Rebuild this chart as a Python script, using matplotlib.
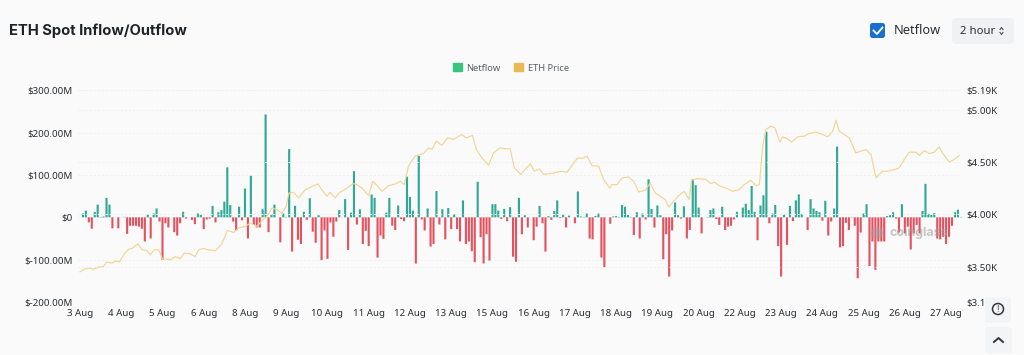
import numpy as np
import matplotlib
matplotlib.use("Agg")
import matplotlib.pyplot as plt
from matplotlib.patches import Patch, FancyBboxPatch, Circle

plt.rcParams['font.family'] = ['Noto Sans', 'DejaVu Sans']

netflow = [0,
 9,16,-12,-27,13,30,1,2,46,30,-26,0,-26,0,1,-39,-20,-20,-20,-22,-27,-57,6,-50,9,21,-10,-100,-14,-24,0,-35,-43,-14,13,-3,0,-6,-16,9,6,-28,-5,-3,27,-12,12,17,37,118,29,-10,-31,25,-7,68,-50,98,-18,-24,-24,19,243,-35,6,30,0,-59,9,1,161,-81,27,-53,-63,13,-6,45,-34,-60,5,-101,-31,-98,-12,-46,-10,17,
 0,43,-77,11,109,-17,19,-63,-32,-68,54,46,-95,-43,-51,11,46,-20,-30,28,-4,-9,96,48,16,-109,145,-5,-31,21,-69,-63,62,-17,19,-52,22,-28,7,-28,-57,40,-63,-57,-80,-106,84,-47,-109,-40,-102,31,31,16,-4,20,-9,24,-93,-105,46,-40,5,-24,0,-54,-22,27,-14,-81,3,-6,15,40,-2,6,-24,4,0,-14,61,2,1,9,-50,-52,3,9,-95,-118,0,-15,2,3,1,29,25,6,1,-42,12,-50,9,-5,90,20,-24,28,5,-99,-40,-140,-31,35,5,-3,
 26,-50,-30,90,76,23,-38,0,1,17,21,-4,-18,25,-30,-22,-20,-5,13,0,23,32,17,74,13,-54,28,52,202,-14,9,29,-68,-140,7,-65,27,-9,40,54,8,0,-30,43,21,15,12,-8,39,-43,-10,21,167,-71,-68,-13,-30,1,-20,-144,-36,9,31,-115,-57,-124,-57,-57,-57,3,5,12,-3,-36,31,-38,-22,-76,-38,-18,-38,15,79,8,6,10,-50,-52,-46,-63,-46,-20,12,18,1]

price_index = [0,1.75,3.2,4.6,6.2,7.9,9.1,10.7,11.9,13.3,14.7,16.4,17.5,19.5,20.9,22.5,23.7,25,26.5,27.8,29.3,30.4,32.1,33.8,35.1,37.1,38.8,40,41.6,43.3,45.6,47.8,49.7,51.8,53.4,55.7,57.4,59.6,61.9,63,64.7,66.4,68,69.5,70.4,72,73.7,75.9,78.2,80.2,81.5,83.2,84.3,86,87.5,
 88.3,90,92,93.3,95,97.3,98.7,100.1,101.8,104,106.3,108,109.3,110.7,112.9,115.8,117.5,118.6,120.1,122,123.9,125.9,127.3,128.7,130.2,132.3,133.6,135.5,137.7,139.4,141.6,143.3,145,146.4,148.6,150.1,151.8,153.1,154.8,156.3,159.6,162.4,164.1,165.8,167.7,169.2,170.9,172.6,174.8,176.5,178.5,179.3,181,182.7,184.9,186.6,188.3,190.5,192.2,193.9,195.6,197.3,198.4,200.1,201.8,
 203.7,205.3,206.1,208.2,211,212.7,213.8,215.5,217.7,220,222.2,223.9,226.1,227.8,229,230.1,231.2,232.9,234.2,235.9,236.8,238.5,239.8,241.9,244.1,245.8,248,250.3,252,253.7,254.8,255.9,257.6,259.3,261.5,263.2,264.9,266.6,268.3,270.5,272.2,274.5,276.1,277.8,279.5,281.8,282.9,284.6,286.2,287.9,289.6,290.7,293,294.6,296.3]
price_k = [3.449,3.478,3.484,3.475,3.494,3.50,3.545,3.532,3.552,3.545,3.612,3.667,3.673,3.718,3.661,3.654,3.612,3.661,3.661,3.574,3.571,3.564,3.596,3.574,3.628,3.622,3.596,3.661,3.673,3.661,3.651,3.718,3.846,3.827,3.869,3.885,3.917,3.885,3.955,3.981,4.061,4.045,4.013,4.077,4.205,4.212,4.157,4.237,4.269,4.292,4.237,4.173,4.212,4.157,4.212,
 4.221,4.253,4.295,4.286,4.253,4.180,4.318,4.276,4.221,4.276,4.292,4.318,4.286,4.462,4.558,4.584,4.638,4.622,4.702,4.661,4.734,4.718,4.744,4.766,4.734,4.757,4.622,4.542,4.472,4.590,4.638,4.629,4.629,4.446,4.382,4.436,4.484,4.414,4.436,4.382,4.398,4.414,4.404,4.468,4.542,4.536,4.558,4.468,4.462,4.334,4.253,4.286,4.286,4.350,4.359,4.318,4.215,4.231,4.302,4.205,4.173,4.141,4.071,4.125,4.180,
 4.221,4.141,4.327,4.343,4.334,4.295,4.308,4.276,4.253,4.221,4.237,4.286,4.327,4.276,4.286,4.654,4.814,4.846,4.830,4.693,4.744,4.725,4.693,4.744,4.750,4.776,4.789,4.766,4.744,4.798,4.904,4.798,4.766,4.734,4.590,4.606,4.622,4.574,4.350,4.414,4.414,4.430,4.446,4.526,4.596,4.596,4.564,4.612,4.584,4.596,4.648,4.590,4.503,4.526,4.564]

date_labels = ['3 Aug','4 Aug','5 Aug','6 Aug','8 Aug','9 Aug','10 Aug','11 Aug','12 Aug','13 Aug','15 Aug','16 Aug','17 Aug','18 Aug','19 Aug','20 Aug','22 Aug','23 Aug','24 Aug','25 Aug','26 Aug','27 Aug']
left_ticks = [300,200,100,0,-100,-200]
left_labels = ['$300.00M','$200.00M','$100.00M','$0','$-100.00M','$-200.00M']
right_ticks = [5.19,5.0,4.5,4.0,3.5,3.16]
right_labels = ['$5.19K','$5.00K','$4.50K','$4.00K','$3.50K','$3.1']

W, H = 1024, 355
BG = '#fafafa'
TEXT = '#2b2e33'
UP, DOWN = '#2fa896', '#e4525f'
LEG_UP, LEG_PRICE = '#3cc47f', '#e9b955'
PRICE_X_SCALE = 1.00713  # price samples were read on a slightly coarser step than the bars

fig = plt.figure(figsize=(W/100, H/100), dpi=100, facecolor=BG)
ax = fig.add_axes([78/W, 1-302/H, (962-78)/W, (302-90.3)/H], facecolor='none')
ax2 = ax.twinx()
ax.set_zorder(2); ax2.set_zorder(3)
x = np.arange(len(netflow))
ax.bar(x, netflow, width=0.72, color=[UP if v >= 0 else DOWN for v in netflow], linewidth=0, zorder=3, snap=False)
ax.set_xlim(-0.68, 299.4)
ax.set_ylim(-200, 300)
ax.set_yticks(left_ticks, left_labels)
ax.set_xticks(np.arange(len(date_labels))*14, date_labels)
ax2.plot(np.array(price_index)*PRICE_X_SCALE, price_k, color='#f2d596', lw=0.85, zorder=4, solid_joinstyle='round')
ax2.set_ylim(3.16, 5.19)
ax2.set_yticks(right_ticks, right_labels)
ax.grid(axis='y', color='#f0f0f0', lw=0.7, ls=(0, (2, 2)), zorder=0)
ax2.grid(axis='y', color='#f0f0f0', lw=0.7, ls=(0, (2, 2)), zorder=0)
for a in (ax, ax2):
    for s in a.spines.values():
        s.set_visible(False)
    a.tick_params(length=0, labelsize=7, labelcolor=TEXT)
ax.tick_params(axis='y', pad=4)
ax.tick_params(axis='x', pad=5)
ax2.tick_params(axis='y', pad=3.5)

handles = [Patch(color=LEG_UP, label='Netflow'), Patch(color=LEG_PRICE, label='ETH Price')]
fig.legend(handles=handles, loc='center', bbox_to_anchor=(511/W, 1-68/H), ncol=2, frameon=False,
           fontsize=6.7, handlelength=0.95, handleheight=0.95, handletextpad=0.45, columnspacing=1.5,
           labelcolor='#5a5e66')

ui = fig.add_axes([0, 0, 1, 1], facecolor='none', zorder=5)
ui.set_xlim(0, W); ui.set_ylim(H, 0); ui.axis('off')
ui.text(9, 31, 'ETH Spot Inflow/Outflow', family='Inter', fontsize=10.6, fontweight='bold', color='#1f2226', va='center')
ui.add_patch(FancyBboxPatch((870, 23), 15, 15, boxstyle='round,pad=0,rounding_size=2.5', fc='#1a6fd0', ec='none'))
ui.plot([873.5, 877, 882.5], [30.5, 34, 27.5], color='white', lw=1.3)
ui.text(894, 31, 'Netflow', fontsize=9.2, color=TEXT, va='center')
ui.add_patch(FancyBboxPatch((952, 18), 62, 26, boxstyle='round,pad=0,rounding_size=4', fc='#eff1f3', ec='none'))
ui.text(960, 31, '2 hour', fontsize=8.2, color=TEXT, va='center')
ui.plot([1000, 1001.5, 1003], [29.5, 27.5, 29.5], color='#50545a', lw=0.8)
ui.plot([1000, 1001.5, 1003], [32.5, 34.5, 32.5], color='#50545a', lw=0.8)
ui.add_patch(FancyBboxPatch((985, 297), 26, 26, boxstyle='round,pad=0,rounding_size=3', fc='#f2f4f6', ec='none'))
ui.add_patch(Circle((998, 309), 5.5, fc='none', ec='#33363b', lw=1.1))
ui.text(998, 309, '!', fontsize=6.5, fontweight='bold', color='#33363b', ha='center', va='center')
ui.add_patch(FancyBboxPatch((985, 327), 27, 26, boxstyle='round,pad=0,rounding_size=3', fc='#f2f4f6', ec='none'))
ui.plot([994, 998.5, 1003], [342, 338, 342], color='#33363b', lw=1.4)
ui.text(919, 233, 'coinglass', family='Inter', fontsize=9, fontweight='bold', color='#a0a0a0', alpha=0.6, ha='center', va='center')
ui.add_patch(Circle((877, 233), 6, fc='#a0a0a0', ec='none', alpha=0.45))

fig.savefig('out.png', dpi=100, facecolor=BG)
